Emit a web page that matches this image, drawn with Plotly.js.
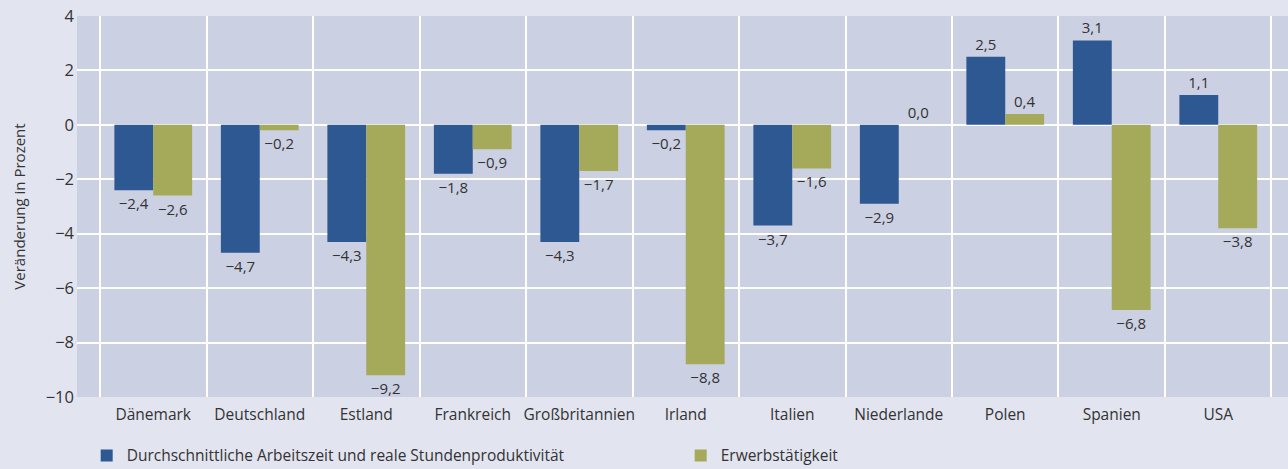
<!DOCTYPE html>
<html>
<head>
<meta charset="utf-8">
<script src="https://cdn.plot.ly/plotly-3.0.1.min.js"></script>
<style>html,body{margin:0;padding:0;background:#e2e4f0;}</style>
</head>
<body>
<div id="chart" style="width:1288px;height:469px;"></div>
<script>
const categories = ["Dänemark","Deutschland","Estland","Frankreich","Großbritannien","Irland","Italien","Niederlande","Polen","Spanien","USA"];
const arbeitszeit = [-2.4,-4.7,-4.3,-1.8,-4.3,-0.2,-3.7,-2.9,2.5,3.1,1.1];
const erwerb = [-2.6,-0.2,-9.2,-0.9,-1.7,-8.8,-1.6,0.0,0.4,-6.8,-3.8];
const seriesNames = ["Durchschnittliche Arbeitszeit und reale Stundenproduktivität","Erwerbstätigkeit"];
const yTicks = [-10,-8,-6,-4,-2,0,2,4];

const fmt = v => (v < 0 ? "\u2212" : "") + Math.abs(v).toFixed(1).replace(".", ",");
const font = "Open Sans, DejaVu Sans, sans-serif";

const traces = [
  {type:"bar", name:seriesNames[0], x:categories, y:arbeitszeit, marker:{color:"#2e5891"},
   text:arbeitszeit.map(fmt), textposition:"outside", cliponaxis:false, constraintext:"none",
   textfont:{size:15,color:"#333333",family:font}, hoverinfo:"none"},
  {type:"bar", name:seriesNames[1], x:categories, y:erwerb, marker:{color:"#a5a95a"},
   text:erwerb.map(fmt), textposition:"outside", cliponaxis:false, constraintext:"none",
   textfont:{size:15,color:"#333333",family:font}, hoverinfo:"none"}
];

const layout = {
  width:1288, height:469,
  margin:{l:77, r:0, t:16, b:72, autoexpand:false},
  paper_bgcolor:"#e2e4f0", plot_bgcolor:"#cbd0e3",
  font:{family:font, size:14, color:"#333333"},
  barmode:"group", bargap:0.27, bargroupgap:0,
  xaxis:{type:"category", range:[-0.716,10.655], tickson:"boundaries", showgrid:true, gridcolor:"#ffffff", gridwidth:2,
         ticks:"", showline:false, zeroline:false, tickangle:0, automargin:false, ticklabelstandoff:6,
         tickfont:{size:15.5}},
  yaxis:{range:[-10,4], tickvals:yTicks, ticktext:yTicks.map(v => (v<0?"\u2212":"")+Math.abs(v)),
         showgrid:true, gridcolor:"#ffffff", gridwidth:2, zeroline:true, zerolinecolor:"#ffffff", zerolinewidth:2,
         ticks:"", showline:false, automargin:false, ticklabelstandoff:2, tickfont:{size:16.5},
         title:{text:"Veränderung in Prozent", font:{size:15}, standoff:16}},
  showlegend:true,
  legend:{orientation:"h", x:0.008, xanchor:"left", yref:"container", y:0.028, yanchor:"middle", bgcolor:"rgba(0,0,0,0)",
          font:{size:15.5}, entrywidth:549, entrywidthmode:"pixels", traceorder:"normal"}
};

Plotly.newPlot("chart", traces, layout, {displayModeBar:false, staticPlot:true});
</script>
</body>
</html>
